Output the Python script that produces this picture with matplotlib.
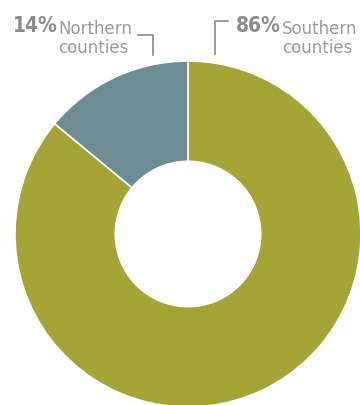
import matplotlib.pyplot as plt
from matplotlib.lines import Line2D

# Data
labels = ["Southern\ncounties", "Northern\ncounties"]
shares = [86, 14]
colors = ["#a5a535", "#6b8d93"]

W, H = 360, 406
fig = plt.figure(figsize=(W / 100, H / 100), dpi=100)
fig.patch.set_facecolor("white")

# Pie axes placed in pixel terms: centre (188, 235), radius 173
cx, cy, r = 188, 235, 173
ax = fig.add_axes([(cx - r) / W, (H - cy - r) / H, 2 * r / W, 2 * r / H])
ax.pie(shares, colors=colors, startangle=90, counterclock=False,
       wedgeprops=dict(width=0.58, edgecolor="white", linewidth=1.2))
ax.set_aspect("equal")
ax.set_xlim(-1, 1)
ax.set_ylim(-1, 1)
ax.axis("off")

def fx(x):
    return x / W

def fy(y):
    return 1 - y / H

grey_pct = "#8c8c8c"
grey_txt = "#9a9a9a"

def pct_text(x, y, s):
    t = fig.text(fx(x), fy(y), s, fontsize=15, fontweight="bold",
                 color=grey_pct, family="DejaVu Sans", fontstretch="condensed",
                 va="baseline", ha="left")
    return t

# Northern label
pct_text(13, 32, f"{shares[1]}%")
fig.text(fx(58), fy(53), labels[1], fontsize=12, color=grey_txt,
         va="baseline", ha="left", linespacing=1.1)
fig.add_artist(Line2D([fx(138), fx(153), fx(153)], [fy(36), fy(36), fy(56)],
                      color="#888888", lw=1.2, transform=fig.transFigure))

# Southern label
pct_text(236, 32, f"{shares[0]}%")
fig.text(fx(282), fy(53), labels[0], fontsize=12, color=grey_txt,
         va="baseline", ha="left", linespacing=1.1)
fig.add_artist(Line2D([fx(228), fx(215), fx(215)], [fy(22), fy(22), fy(55)],
                      color="#888888", lw=1.2, transform=fig.transFigure))

fig.savefig("out.png", dpi=100, facecolor="white")
